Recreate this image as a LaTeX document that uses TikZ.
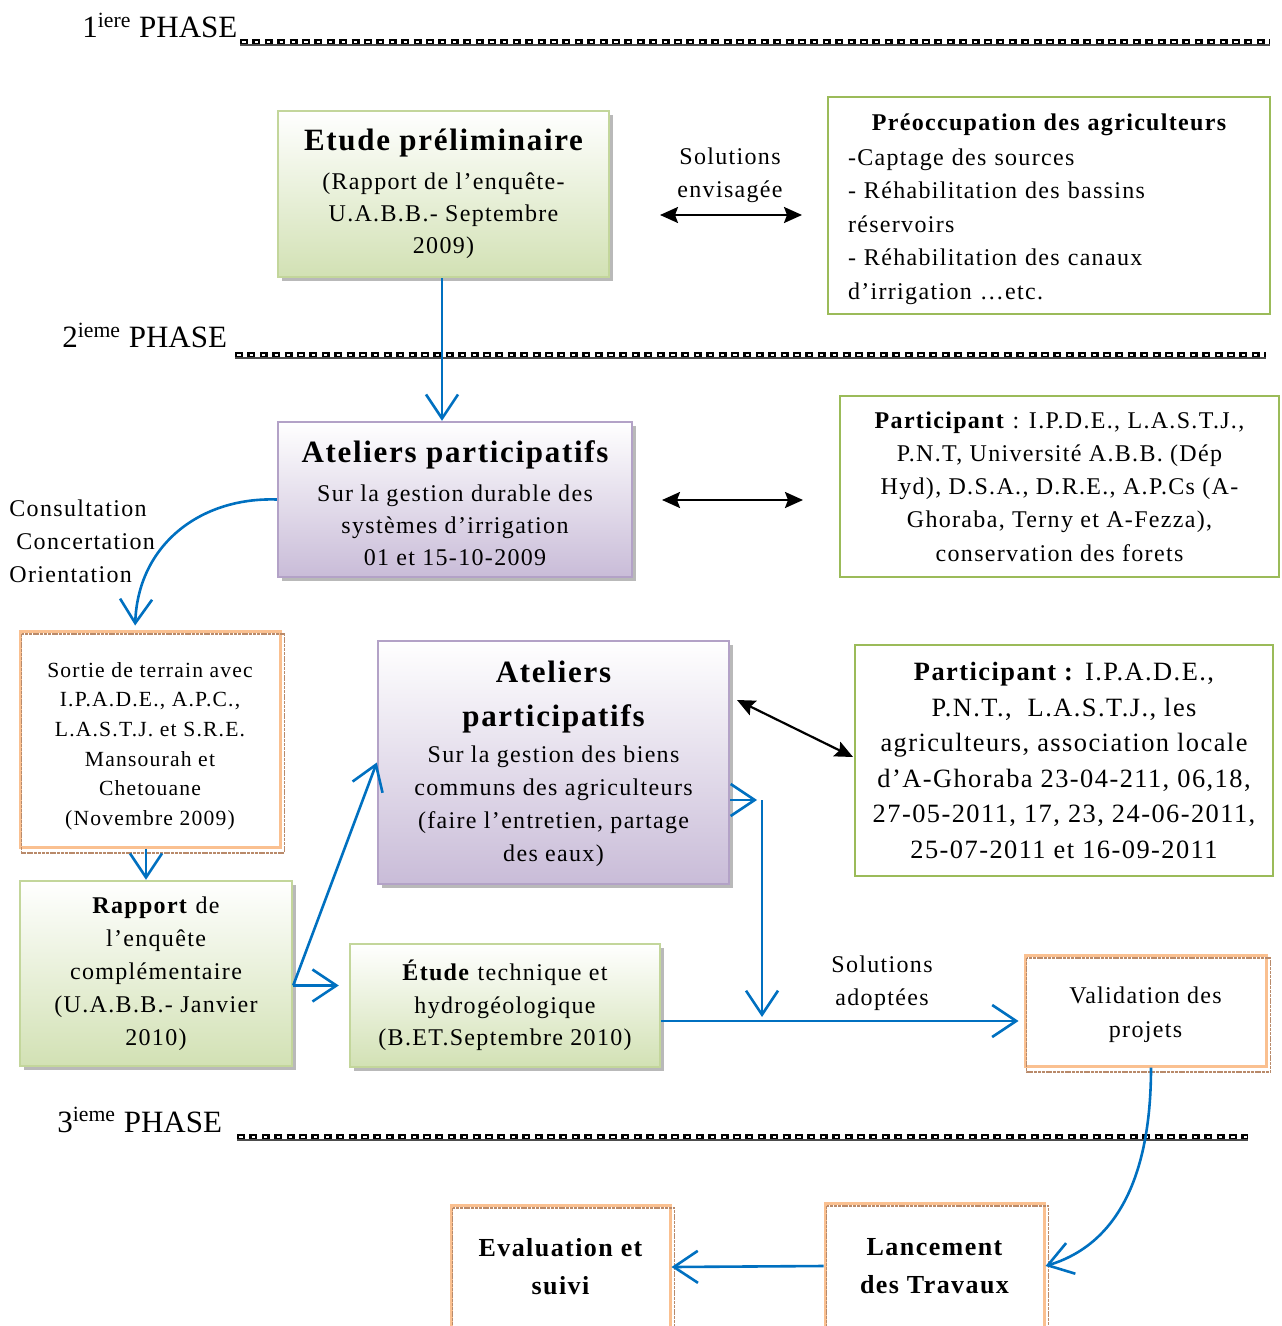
\documentclass[tikz,border=0pt]{standalone}
\usepackage{fontspec}
\setmainfont{Liberation Serif}[LetterSpace=5.5,BoldFeatures={LetterSpace=5.5}]
\newfontfamily\phasefont{Liberation Serif}
\usetikzlibrary{arrows.meta,shadows}
\definecolor{grB}{HTML}{9BBB59}
\definecolor{grL}{HTML}{C3D69B}
\definecolor{grF}{HTML}{D2E1B4}
\definecolor{puB}{HTML}{B3A2C7}
\definecolor{puF}{HTML}{C9BCD8}
\definecolor{orB}{HTML}{FAC090}
\definecolor{brL}{HTML}{B98A6A}
\definecolor{blA}{HTML}{0070C0}
\newcommand{\titlef}{\fontsize{15.5}{16}\selectfont\bfseries}
\newcommand{\topstrut}[1]{\rule{0pt}{#1}}
\tikzset{
  box/.style={rectangle, inner sep=0pt, align=center, font=\fontsize{12}{16.5}\selectfont},
  shad/.style={drop shadow={shadow xshift=1.8pt, shadow yshift=-2pt, fill=gray!55, opacity=1}},
  greenbox/.style={box, draw=grL, line width=1.2pt, top color=white, bottom color=grF, shad},
  purplebox/.style={box, draw=puB, line width=1.2pt, top color=white, bottom color=puF, shad},
  linebox/.style={box, draw=grB, line width=0.8pt, fill=white},
  orbox/.style={box, draw=orB, line width=1.5pt, fill=white},
  innerline/.style={draw=brL, line width=0.8pt, dash pattern=on 1.5pt off 0.4pt},
  barb/.style={draw=blA, line width=1.3pt, -{Straight Barb[length=12pt,width=16pt,line width=1.3pt]}},
  blk/.style={draw=black, line width=1.1pt, {Stealth[length=9pt,width=8pt,inset=1.5pt]}-{Stealth[length=9pt,width=8pt,inset=1.5pt]}},
  phase/.style={anchor=base west, inner sep=0pt, font=\phasefont\fontsize{15.5}{18}\selectfont},
  phaseline/.style={draw=black, line width=3pt, dash pattern=on 4pt off 2.2pt},
  phasehole/.style={draw=white, line width=1pt, dash pattern=on 1.6pt off 4.6pt, dash phase=-1.2pt},
  phasebase/.style={draw=black!70, line width=0.6pt},
  lab/.style={inner sep=0pt, align=center, font=\fontsize{12}{16.5}\selectfont}
}
\begin{document}
\begin{tikzpicture}[x=0.5pt,y=-0.5pt]
\useasboundingbox (0,0) rectangle (1281,1326);
\clip (0,0) rectangle (1281,1326);

% phase labels and lines
\node[phase] (p1) at (82,38) {1\textsuperscript{iere} PHASE};
\coordinate (p1a) at (240,42); \coordinate (p1b) at (1270,42);
\draw[phaseline] (p1a) -- (p1b);
\draw[phasehole] (p1a) -- (p1b);
\draw[phasebase] ([yshift=-1.5pt]p1a) -- ([yshift=-1.5pt]p1b);

\node[phase] (p2) at (62,348) {2\textsuperscript{ieme} PHASE};
\coordinate (p2a) at (235,355); \coordinate (p2b) at (1266,355);
\draw[phaseline] (p2a) -- (p2b);
\draw[phasehole] (p2a) -- (p2b);
\draw[phasebase] ([yshift=-1.5pt]p2a) -- ([yshift=-1.5pt]p2b);

\node[phase] (p3) at (57,1132) {3\textsuperscript{ieme} PHASE};
\coordinate (p3a) at (237,1137); \coordinate (p3b) at (1248,1137);
\draw[phaseline] (p3a) -- (p3b);
\draw[phasehole] (p3a) -- (p3b);
\draw[phasebase] ([yshift=-1.5pt]p3a) -- ([yshift=-1.5pt]p3b);

% boxes
\node[greenbox, minimum width=165.5pt, minimum height=83pt, font=\fontsize{12}{16}\selectfont] (etude) at (443.5,194)
 {{\titlef Etude préliminaire}\\[3.5pt](Rapport de l’enquête-\\U.A.B.B.- Septembre\\2009)};

\node[linebox, minimum width=221pt, minimum height=108.5pt, text width=201pt, align=left, font=\fontsize{12}{16.75}\selectfont] (preo) at (1049,205.5)
 {\makebox[201pt]{\topstrut{12pt}\fontsize{12}{14}\selectfont\bfseries Préoccupation des agriculteurs}\\[0.8pt]
  -Captage des sources\\
  - Réhabilitation des bassins\\
  réservoirs\\
  - Réhabilitation des canaux\\
  d’irrigation …etc.};

\node[purplebox, minimum width=177pt, minimum height=77.5pt, font=\fontsize{12}{16}\selectfont] (at1) at (455,499.5)
 {{\titlef\topstrut{15pt}Ateliers participatifs}\\[3.5pt]Sur la gestion durable des\\systèmes d’irrigation\\01 et 15-10-2009};

\node[linebox, minimum width=219.5pt, minimum height=90.5pt, font=\fontsize{12}{16.6}\selectfont] (part1) at (1059.5,486.5)
 {\textbf{Participant} : I.P.D.E., L.A.S.T.J.,\\P.N.T, Université A.B.B. (Dép\\Hyd), D.S.A., D.R.E., A.P.Cs (A-\\Ghoraba, Terny et A-Fezza),\\conservation des forets};

\node[orbox, minimum width=130pt, minimum height=108pt, font=\fontsize{10.8}{14.8}\selectfont] (sortie) at (150,739)
 {\topstrut{14.5pt}Sortie de terrain avec\\I.P.A.D.E., A.P.C.,\\L.A.S.T.J. et S.R.E.\\Mansourah et\\Chetouane\\(Novembre 2009)};

\node[purplebox, minimum width=175.5pt, minimum height=121.5pt, font=\fontsize{12}{16.5}\selectfont] (at2) at (553.5,762.5)
 {{\titlef\topstrut{12.5pt}Ateliers}\\[5.5pt]{\titlef participatifs}\\[1.5pt]Sur la gestion des biens\\communs des agriculteurs\\(faire l’entretien, partage\\des eaux)};

\node[linebox, minimum width=209pt, minimum height=115.5pt, font=\fontsize{13.2}{17.8}\selectfont] (part2) at (1064,760.5)
 {\textbf{Participant :} I.P.A.D.E.,\\P.N.T.,~ L.A.S.T.J., les\\agriculteurs, association locale\\d’A-Ghoraba 23-04-211, 06,18,\\27-05-2011, 17, 23, 24-06-2011,\\25-07-2011 et 16-09-2011};

\node[greenbox, minimum width=136pt, minimum height=92.5pt] (rapport) at (156,973.5)
 {\textbf{Rapport} de\\l’enquête\\complémentaire\\(U.A.B.B.- Janvier\\2010)};

\node[greenbox, minimum width=155pt, minimum height=61.5pt, font=\fontsize{12}{16.25}\selectfont] (etech) at (505,1005.5)
 {\textbf{Étude} technique et\\hydrogéologique\\(B.ET.Septembre 2010)};

\node[orbox, minimum width=120.5pt, minimum height=55.5pt, font=\fontsize{12}{17}\selectfont] (valid) at (1145.5,1010.5)
 {\topstrut{13pt}Validation des\\projets};

\node[orbox, minimum width=109.5pt, minimum height=63pt, font=\fontsize{13}{19}\selectfont\bfseries] (lanc) at (934.5,1266)
 {Lancement\\des Travaux};

\node[orbox, minimum width=109.5pt, minimum height=62pt, font=\fontsize{13}{19}\selectfont\bfseries] (evalu) at (560.5,1267)
 {Evaluation et\\suivi};

% inner offset lines of orange boxes
\foreach \b in {sortie,valid,lanc,evalu}{
  \draw[innerline] ([shift={(1.5pt,-2.2pt)}]\b.north west) rectangle ([shift={(1.5pt,-2.2pt)}]\b.south east);
}

% labels
\node[lab] (solenv) at (730,175) {Solutions\\envisagée};
\node[lab] (soladp) at (882,983) {Solutions\\adoptées};
\node[lab, anchor=west, align=left] (cco) at (9,541) {Consultation\\\hspace*{3.5pt}Concertation\\Orientation};

% black double arrows
\coordinate (b1a) at (660,215); \coordinate (b1b) at (802,215);
\draw[blk] (b1a) -- (b1b);
\coordinate (b2a) at (662,500); \coordinate (b2b) at (803,500);
\draw[blk] (b2a) -- (b2b);
\coordinate (b3a) at (737,700); \coordinate (b3b) at (853,757);
\draw[blk] (b3a) -- (b3b);

% blue connectors
\draw[barb] ([xshift=-0.75pt]etude.south) -- ([xshift=-0.75pt]etude.south |- at1.north);
\draw[barb, shorten >=2pt] (at1.west) .. controls (200,497) and (138,545) .. ([xshift=-7.5pt]sortie.north);
\draw[barb] ([xshift=-2pt]sortie.south) -- ([xshift=-2pt]sortie.south |- rapport.north);
\coordinate (r1) at ([yshift=-6pt]rapport.east);
\draw[barb] (r1) -- (at2.west);
\draw[barb, shorten >=5pt] (r1) -- (r1 -| etech.west);
\coordinate (a2r) at ([yshift=-18.75pt]at2.east);
\coordinate (v1) at (762,800);
\draw[barb] (a2r) -- ([xshift=-2.5pt]v1);
\coordinate (h1) at ([yshift=-7.75pt]etech.east);
\draw[barb, shorten >=2pt] (v1) -- (v1 |- h1);
\draw[barb, shorten >=2.5pt] (h1) -- (h1 -| valid.west);
\draw[barb] ([xshift=2.75pt]valid.south) .. controls (1151,1180) and (1115,1245) .. (lanc.east);
\draw[barb] (lanc.west) -- (evalu.east);
\end{tikzpicture}
\end{document}
